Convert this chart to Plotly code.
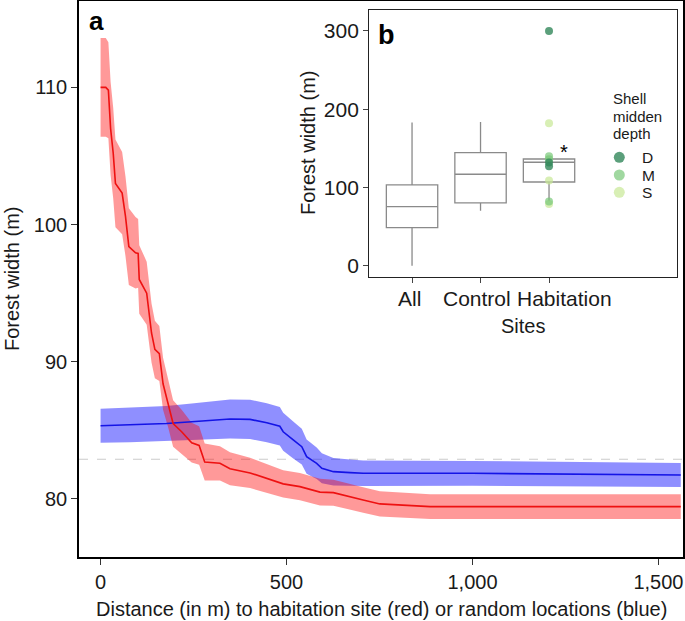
import plotly.graph_objects as go

# ---------------- data: panel a ----------------
red_x = [0, 14, 21, 27, 34, 40, 58, 67, 76, 94, 101, 104, 124, 133, 137, 146, 158, 168,
         182, 195, 218, 245, 265, 280, 321, 348, 402, 447, 491, 536, 590, 626, 666,
         706, 751, 886, 1560]
red_y = [110.0, 110.0, 109.8, 107.0, 105.2, 103.0, 102.3, 100.6, 98.4, 97.95, 97.9, 96.0,
         95.0, 93.0, 92.1, 90.9, 90.6, 88.4, 87.0, 85.5, 84.9, 84.1, 83.9, 82.7, 82.6,
         82.2, 81.9, 81.5, 81.1, 80.9, 80.5, 80.46, 80.17, 79.93, 79.64, 79.44, 79.44]
red_upper = [113.6, 113.6, 113.3, 110.4, 108.5, 106.2, 105.3, 103.5, 101.2, 100.55, 100.4,
             98.5, 97.3, 95.2, 94.25, 93.0, 92.6, 90.3, 88.8, 87.2, 86.5, 85.55, 85.3,
             84.05, 83.85, 83.4, 83.0, 82.55, 82.1, 81.9, 81.47, 81.41, 81.11, 80.86,
             80.56, 80.34, 80.34]
red_lower = [106.4, 106.4, 106.3, 103.6, 101.9, 99.8, 99.3, 97.7, 95.6, 95.35, 95.4, 93.5,
             92.7, 90.8, 89.95, 88.8, 88.6, 86.5, 85.2, 83.8, 83.3, 82.65, 82.5, 81.35,
             81.35, 81.0, 80.8, 80.45, 80.1, 79.9, 79.53, 79.51, 79.23, 79.0, 78.72,
             78.54, 78.54]

blue_x = [0, 79, 177, 245, 348, 402, 447, 482, 491, 518, 541, 554, 581, 595, 626, 671,
          706, 1000, 1560]
blue_y = [85.34, 85.39, 85.5, 85.63, 85.83, 85.8, 85.56, 85.3, 84.9, 84.3, 83.81, 83.08,
          82.6, 82.24, 81.99, 81.92, 81.87, 81.87, 81.75]
blue_upper = [86.58, 86.65, 86.78, 86.96, 87.26, 87.23, 86.98, 86.70, 86.28, 85.65, 85.11,
              84.33, 83.75, 83.34, 82.99, 82.87, 82.80, 82.77, 82.62]
blue_lower = [84.10, 84.13, 84.22, 84.30, 84.40, 84.37, 84.14, 83.90, 83.52, 82.95, 82.51,
              81.83, 81.45, 81.14, 80.99, 80.97, 80.94, 80.97, 80.88]

reference_width = 82.9  # dashed horizontal reference line

a_xticks = [0, 500, 1000, 1500]
a_yticks = [80, 90, 100, 110]

# ---------------- data: panel b ----------------
sites = ["All", "Control", "Habitation"]
box_q1 = [48.6, 80.2, 107.0]
box_median = [75.4, 116.9, 132.2]
box_q3 = [103.2, 144.5, 136.4]
box_low = [0.0, 70.3, 82.3]
box_high = [182.9, 183.8, 136.4]

depth_D = [300, 132, 127]
depth_M = [140, 136, 82]
depth_S = [182, 109, 79]
b_yticks = [0, 100, 200, 300]

FONT = "Liberation Sans, Arial, Helvetica, sans-serif"
W, H = 685, 621
L, R, T, B = 79, 2, 1, 64


def px_x(px):
    return (px - L) / (W - L - R)


def px_y(py):
    return (H - B - py) / (H - T - B)


fig = go.Figure()

# ribbons
fig.add_trace(go.Scatter(x=blue_x + blue_x[::-1], y=blue_upper + blue_lower[::-1],
                         fill="toself", fillcolor="rgba(0,0,255,0.44)",
                         line=dict(width=0), mode="lines", hoverinfo="skip",
                         showlegend=False))
fig.add_trace(go.Scatter(x=red_x + red_x[::-1], y=red_upper + red_lower[::-1],
                         fill="toself", fillcolor="rgba(255,0,0,0.40)",
                         line=dict(width=0), mode="lines", hoverinfo="skip",
                         showlegend=False))
fig.add_trace(go.Scatter(x=blue_x, y=blue_y, mode="lines",
                         line=dict(color="#1414e6", width=1.6), showlegend=False))
fig.add_trace(go.Scatter(x=red_x, y=red_y, mode="lines",
                         line=dict(color="#ee1111", width=1.6), showlegend=False))

# inset boxes
fig.add_trace(go.Box(x=sites, q1=box_q1, median=box_median, q3=box_q3,
                     lowerfence=box_low, upperfence=box_high,
                     width=0.75, whiskerwidth=0, fillcolor="white",
                     line=dict(color="#8a8a8a", width=1.3), boxpoints=False,
                     xaxis="x2", yaxis="y2", showlegend=False))

depth_colors = {"D": "rgba(50,135,90,0.8)", "M": "rgba(120,200,120,0.7)",
                "S": "rgba(200,232,150,0.7)"}
for name, vals in [("S", depth_S), ("M", depth_M), ("D", depth_D)]:
    fig.add_trace(go.Scatter(x=["Habitation"] * len(vals), y=vals, mode="markers",
                             marker=dict(size=8, color=depth_colors[name]),
                             name=name, xaxis="x2", yaxis="y2", showlegend=False))

axis_common = dict(showgrid=False, zeroline=False, showline=True, mirror=True,
                   ticks="outside", automargin=False, tickangle=0)

fig.update_layout(
    width=W, height=H,
    margin=dict(l=L, r=R, t=T, b=B),
    paper_bgcolor="white", plot_bgcolor="white",
    font=dict(family=FONT, color="#1a1a1a"),
    xaxis=dict(domain=[0, 1], range=[-58, 1566], tickvals=a_xticks, tickformat=",",
               linecolor="black", linewidth=1.6, ticklen=6, tickwidth=1.2,
               tickcolor="#333", tickfont=dict(size=20, family=FONT, color="#1a1a1a"),
               **axis_common),
    yaxis=dict(domain=[0, 1], range=[75.77, 116.3], tickvals=a_yticks,
               linecolor="black", linewidth=1.6, ticklen=6, tickwidth=1.2,
               tickcolor="#333", tickfont=dict(size=20, family=FONT, color="#1a1a1a"),
               **axis_common),
    xaxis2=dict(domain=[px_x(369.3), px_x(676.7)], anchor="y2", type="category",
                categoryorder="array", categoryarray=sites, range=[-0.624, 3.864],
                linecolor="#222", linewidth=1.4, ticklen=5, tickwidth=1.1,
                tickcolor="#444", showticklabels=False, **axis_common),
    yaxis2=dict(domain=[px_y(276.7), px_y(10)], anchor="x2", range=[-14.06, 326.8],
                tickvals=b_yticks, linecolor="#222", linewidth=1.4, ticklen=5,
                tickwidth=1.1, tickcolor="#444",
                tickfont=dict(size=21, family=FONT, color="#1a1a1a"), **axis_common),
    shapes=[dict(type="line", xref="x domain", yref="y", x0=0, x1=1,
                 y0=reference_width, y1=reference_width, layer="below",
                 line=dict(color="#cccccc", width=1.1, dash="dash"))],
)

ann = []


def add_text(text, x, y, size, xanchor="center", yanchor="middle", angle=0,
             bold=False, color="#1a1a1a"):
    ann.append(dict(text=f"<b>{text}</b>" if bold else text, x=px_x(x), y=px_y(y),
                    xref="paper", yref="paper", showarrow=False, xanchor=xanchor,
                    yanchor=yanchor, textangle=angle, borderpad=0,
                    font=dict(size=size, family=FONT, color=color)))


add_text("Distance (in m) to habitation site (red) or random locations (blue)",
         381, 609, 20)
add_text("Forest width (m)", 12, 279, 20, angle=-90)
add_text("a", 88, 21, 26, xanchor="left", bold=True, color="black")
add_text("b", 377, 35, 27, xanchor="left", bold=True, color="black")
add_text("Sites", 523, 326, 20)
add_text("Forest width (m)", 308, 143, 20, angle=-90)
add_text("*", 563.5, 152, 20, color="black")

# inset category labels (placed as in the original figure)
label_offsets_px = [-3, -4, 15]
for i, (cat, off) in enumerate(zip(sites, label_offsets_px)):
    ann.append(dict(text=cat, x=i + off / 68.5, y=px_y(298.5), xref="x2", yref="paper",
                    showarrow=False, xanchor="center", yanchor="middle",
                    font=dict(size=21, family=FONT, color="#1a1a1a")))

# legend for shell midden depth
add_text("Shell", 611.5, 98.8, 15, xanchor="left")
add_text("midden", 611.5, 116.3, 15, xanchor="left")
add_text("depth", 611.5, 133.8, 15, xanchor="left")
legend_rows = [("D", 157.3), ("M", 175.0), ("S", 192.3)]
for lab, yy in legend_rows:
    add_text(lab, 641, yy + 0.5, 15.5, xanchor="left")
    fig.add_shape(type="circle", xref="paper", yref="paper", xsizemode="pixel",
                  ysizemode="pixel", xanchor=px_x(619.3), yanchor=px_y(yy),
                  x0=-5.5, x1=5.5, y0=-5.5, y1=5.5,
                  fillcolor=depth_colors[lab], line=dict(width=0))

fig.update_layout(annotations=ann)
fig.write_html("out.html", config={"displayModeBar": False},
               post_script="document.body.style.margin='0';"
                           "document.body.style.overflow='hidden';")
